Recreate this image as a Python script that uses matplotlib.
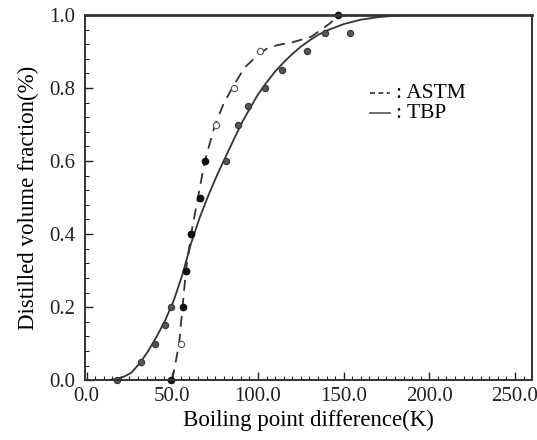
import matplotlib
matplotlib.use("Agg")
import matplotlib.pyplot as plt
from matplotlib.ticker import MultipleLocator, FormatStrFormatter

plt.rcParams['font.family'] = ['Liberation Serif', 'DejaVu Serif']

# TBP curve
tbp_curve_x = [12, 18, 22, 26, 31, 36, 41, 46, 51, 56, 61, 66, 71, 76, 81, 86, 91, 96, 100, 105, 110, 115, 120, 125, 130, 135, 140, 150, 160, 170, 180, 190, 260]
tbp_curve_y = [0.0, 0.004, 0.01, 0.02, 0.046, 0.08, 0.12, 0.165, 0.22, 0.29, 0.375, 0.445, 0.505, 0.56, 0.61, 0.66, 0.708, 0.75, 0.782, 0.815, 0.845, 0.87, 0.893, 0.913, 0.93, 0.945, 0.957, 0.975, 0.987, 0.994, 0.998, 1.0, 1.0]

# ASTM curve
astm_curve_x = [50, 52, 54, 56, 58, 61, 65, 69, 75, 80, 85, 92, 101, 106, 112, 120, 131, 142, 147, 260]
astm_curve_y = [0.0, 0.05, 0.10, 0.20, 0.30, 0.40, 0.50, 0.60, 0.70, 0.757, 0.80, 0.855, 0.895, 0.91, 0.918, 0.925, 0.94, 0.977, 1.0, 1.0]

# TBP data points
tbp_x = [18, 32, 39.7, 45.6, 49.5, 58.2, 61.2, 66, 81.6, 88.4, 94.2, 104, 114.3, 128.7, 139, 154]
tbp_y = [0.0, 0.05, 0.10, 0.15, 0.20, 0.30, 0.40, 0.50, 0.60, 0.70, 0.75, 0.80, 0.85, 0.90, 0.95, 0.95]

# ASTM data points
astm_filled_x = [49.5, 56, 58.2, 61, 66, 69, 147]
astm_filled_y = [0.0, 0.20, 0.30, 0.40, 0.50, 0.60, 1.0]
astm_open_x = [55, 75.7, 86, 101]
astm_open_y = [0.10, 0.70, 0.80, 0.90]

fig = plt.figure(figsize=(5.37, 4.40), dpi=100)
ax = fig.add_axes([0.158, 0.136, 0.833, 0.830])

ax.plot(tbp_curve_x, tbp_curve_y, color='#333333', lw=1.3, solid_capstyle='round')
ax.plot(astm_curve_x, astm_curve_y, color='#333333', lw=1.3, dashes=(6, 4))

ax.plot(tbp_x, tbp_y, linestyle='none', marker='o', ms=4.5, mfc='#555555', mec='#333333', mew=0.8, clip_on=False)
ax.plot(astm_filled_x, astm_filled_y, linestyle='none', marker='o', ms=4.5, mfc='#111111', mec='#111111', clip_on=False)
ax.plot(astm_open_x, astm_open_y, linestyle='none', marker='o', ms=4.5, mfc='white', mec='#555555', mew=0.8, clip_on=False)

ax.set_xlim(-1, 260)
ax.set_ylim(0, 1.0)
ax.xaxis.set_major_locator(MultipleLocator(50))
ax.xaxis.set_minor_locator(MultipleLocator(5))
ax.yaxis.set_major_locator(MultipleLocator(0.2))
ax.yaxis.set_minor_locator(MultipleLocator(0.04))
ax.xaxis.set_major_formatter(FormatStrFormatter('%.1f'))
ax.yaxis.set_major_formatter(FormatStrFormatter('%.1f'))
ax.tick_params(which='both', direction='in', colors='#222222', labelsize=15)
ax.tick_params(which='major', length=6, width=1.0, pad=5)
ax.tick_params(which='minor', length=3, width=0.8)
ax.tick_params(axis='y', pad=7)
for s in ax.spines.values():
    s.set_linewidth(1.4)
    s.set_color('#333333')
ax.spines['top'].set_linewidth(2.0)

ax.set_xlabel('Boiling point difference(K)', fontsize=16.5, labelpad=3)
ax.set_ylabel('Distilled volume fraction(%)', fontsize=16.5, labelpad=7)

# legend samples
ax.plot([0.638, 0.682], [0.786, 0.786], transform=ax.transAxes, color='#333333', lw=1.2, dashes=(3, 2))
ax.plot([0.638, 0.682], [0.731, 0.731], transform=ax.transAxes, color='#555555', lw=1.2)
ax.text(0.695, 0.786, ': ASTM', transform=ax.transAxes, fontsize=15.5, va='center', ha='left')
ax.text(0.695, 0.731, ': TBP', transform=ax.transAxes, fontsize=15.5, va='center', ha='left')

fig.savefig('out.png', dpi=100)
